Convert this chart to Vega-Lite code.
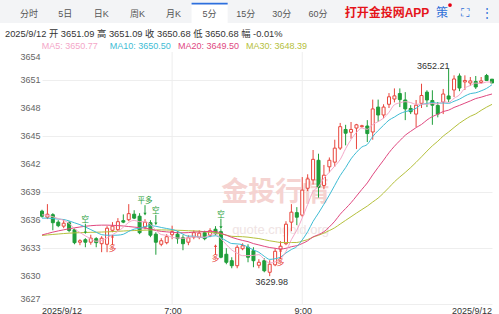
{
"$schema":"https://vega.github.io/schema/vega-lite/v6.json",
"padding":0,
"background":"#ffffff",
"spacing":0,
"config":{"view":{"stroke":null},"font":"'Liberation Sans', 'Noto Sans CJK SC', sans-serif","concat":{"spacing":0}},
"vconcat":[
{
"width":499,"height":23,
"view":{"fill":"#f3f4f6","stroke":null},
"layer":[
{"data":{"values":[{"tab":"分时"},{"tab":"5日"},{"tab":"日K"},{"tab":"周K"},{"tab":"月K"},{"tab":"5分"},{"tab":"15分"},{"tab":"30分"},{"tab":"60分"}]},
"encoding":{"x":{"field":"tab","type":"nominal","axis":null,"scale":{"type":"band","domain":["分时","5日","日K","周K","月K","5分","15分","30分","60分"],"range":[11,336],"paddingInner":0,"paddingOuter":0}}},
"layer":[
{"transform":[{"filter":"datum.tab === '5分'"}],"mark":{"type":"bar","color":"#ffffff"},"encoding":{"y":{"datum":0,"type":"quantitative","axis":null,"scale":{"domain":[0,1],"nice":false,"zero":false}},"y2":{"datum":0.88}}},
{"transform":[{"filter":"datum.tab === '5分'"}],"mark":{"type":"bar","color":"#2d6fdd"},"encoding":{"y":{"datum":0.8,"type":"quantitative"},"y2":{"datum":0.88}}},
{"mark":{"type":"text","fontSize":9,"color":"#555555"},"encoding":{"y":{"datum":0.4,"type":"quantitative"},"text":{"field":"tab"}}}
]},
{"data":{"values":[{"item":"打开金投网APP"}]},
"mark":{"type":"text","fontSize":12,"fontWeight":"bold","color":"#e5141a"},
"encoding":{"x":{"field":"item","type":"nominal","axis":null,"scale":{"type":"point","range":[387,387],"padding":0}},"y":{"datum":0.42,"type":"quantitative"},"text":{"field":"item"}}},
{"data":{"values":[{"item":"策"},{"item":"⛶"},{"item":"⋮"}]},
"encoding":{"x":{"field":"item","type":"nominal","axis":null,"scale":{"type":"point","domain":["策","⛶","⋮"],"range":[442,487],"padding":0}}},
"layer":[
{"mark":{"type":"text","fontSize":12,"color":"#2f6fd8"},"encoding":{"y":{"datum":0.42,"type":"quantitative"},"text":{"field":"item"}}},
{"transform":[{"filter":"datum.item === '策'"}],"mark":{"type":"point","filled":true,"size":14,"color":"#e60012","opacity":1,"xOffset":8},"encoding":{"y":{"datum":0.78,"type":"quantitative"}}}
]}
],
"resolve":{"scale":{"x":"independent"}}
},
{
"width":499,"height":27,
"layer":[
{"data":{"values":[{"s":"2025/9/12 开 3651.09 高 3651.09 收 3650.68 低 3650.68 幅 -0.01%"}]},
"mark":{"type":"text","align":"left","fontSize":9.3,"color":"#333333"},
"encoding":{"x":{"datum":"info","type":"nominal","axis":null,"scale":{"type":"point","range":[5,5],"padding":0}},
"y":{"datum":"info","type":"nominal","axis":null,"scale":{"type":"point","domain":["info","ma"],"range":[11,22.5],"padding":0}},
"text":{"field":"s"}}},
{"data":{"values":[{"ma":"MA5","s":"MA5: 3650.77"},{"ma":"MA10","s":"MA10: 3650.50"},{"ma":"MA20","s":"MA20: 3649.50"},{"ma":"MA30","s":"MA30: 3648.39"}]},
"mark":{"type":"text","align":"left","fontSize":9},
"encoding":{"x":{"field":"ma","type":"nominal","axis":null,"scale":{"type":"point","domain":["MA5","MA10","MA20","MA30"],"range":[41.7,246],"padding":0}},
"y":{"datum":"ma","type":"nominal"},
"text":{"field":"s"},
"color":{"field":"ma","type":"nominal","legend":null,"scale":{"domain":["MA5","MA10","MA20","MA30"],"range":["#f4a7c8","#3ebcd4","#e0487f","#b5c03c"]}}}}
],
"resolve":{"scale":{"x":"independent"}}
},
{
"width":499,"height":252,
"data":{"values":[
{"t":"05:00","o":3636.95,"h":3637.10,"l":3636.25,"c":3636.40,"m5":3636.55,"m10":3636.20,"m20":3634.40,"m30":3634.34},
{"t":"05:05","o":3636.30,"h":3637.70,"l":3636.10,"c":3636.62,"m5":3636.50,"m10":3636.20,"m20":3634.55,"m30":3634.40},
{"t":"05:10","o":3636.57,"h":3636.73,"l":3634.90,"c":3635.71,"m5":3636.35,"m10":3636.15,"m20":3634.70,"m30":3634.45},
{"t":"05:15","o":3635.77,"h":3635.98,"l":3635.23,"c":3635.39,"m5":3636.15,"m10":3636.10,"m20":3634.83,"m30":3634.50},
{"t":"05:20","o":3635.34,"h":3636.09,"l":3635.12,"c":3635.66,"m5":3635.96,"m10":3636.05,"m20":3634.95,"m30":3634.55},
{"t":"05:25","o":3635.71,"h":3635.87,"l":3634.69,"c":3634.88,"m5":3635.65,"m10":3635.90,"m20":3635.06,"m30":3634.59},
{"t":"05:30","o":3634.96,"h":3635.12,"l":3633.40,"c":3633.57,"m5":3635.04,"m10":3635.70,"m20":3635.16,"m30":3634.62},
{"t":"05:35","o":3633.62,"h":3633.94,"l":3633.30,"c":3633.78,"m5":3634.66,"m10":3635.50,"m20":3635.25,"m30":3634.64},
{"t":"05:40","o":3633.89,"h":3634.05,"l":3633.08,"c":3633.62,"m5":3634.30,"m10":3635.25,"m20":3635.33,"m30":3634.66},
{"t":"05:45","o":3633.62,"h":3634.42,"l":3633.35,"c":3634.05,"m5":3633.98,"m10":3634.97,"m20":3635.39,"m30":3634.68},
{"t":"05:50","o":3634.00,"h":3634.16,"l":3633.08,"c":3633.57,"m5":3633.72,"m10":3634.69,"m20":3635.43,"m30":3634.69},
{"t":"05:55","o":3633.46,"h":3634.26,"l":3632.55,"c":3634.05,"m5":3633.81,"m10":3634.43,"m20":3635.45,"m30":3634.71},
{"t":"06:00","o":3633.40,"h":3635.34,"l":3632.55,"c":3635.12,"m5":3634.08,"m10":3634.37,"m20":3635.45,"m30":3634.73},
{"t":"06:05","o":3634.90,"h":3635.77,"l":3634.69,"c":3635.34,"m5":3634.43,"m10":3634.36,"m20":3635.43,"m30":3634.76},
{"t":"06:10","o":3634.96,"h":3636.20,"l":3634.80,"c":3635.82,"m5":3634.78,"m10":3634.38,"m20":3635.40,"m30":3634.79},
{"t":"06:15","o":3635.93,"h":3636.60,"l":3635.66,"c":3635.77,"m5":3635.22,"m10":3634.47,"m20":3635.36,"m30":3634.82},
{"t":"06:20","o":3636.03,"h":3637.70,"l":3635.87,"c":3636.68,"m5":3635.75,"m10":3634.78,"m20":3635.30,"m30":3634.85},
{"t":"06:25","o":3636.62,"h":3637.05,"l":3636.10,"c":3636.20,"m5":3635.96,"m10":3635.02,"m20":3635.24,"m30":3634.87},
{"t":"06:30","o":3636.41,"h":3636.73,"l":3634.48,"c":3634.64,"m5":3635.82,"m10":3635.12,"m20":3635.18,"m30":3634.89},
{"t":"06:35","o":3635.23,"h":3636.09,"l":3635.00,"c":3635.77,"m5":3635.81,"m10":3635.30,"m20":3635.13,"m30":3634.91},
{"t":"06:40","o":3635.71,"h":3635.98,"l":3634.16,"c":3634.37,"m5":3635.53,"m10":3635.38,"m20":3635.03,"m30":3634.93},
{"t":"06:45","o":3634.48,"h":3634.69,"l":3632.28,"c":3633.62,"m5":3634.92,"m10":3635.33,"m20":3634.88,"m30":3634.94},
{"t":"06:50","o":3633.40,"h":3634.05,"l":3633.19,"c":3633.78,"m5":3634.44,"m10":3635.20,"m20":3634.78,"m30":3634.94},
{"t":"06:55","o":3633.57,"h":3634.48,"l":3633.40,"c":3634.21,"m5":3634.35,"m10":3635.09,"m20":3634.73,"m30":3634.93},
{"t":"07:00","o":3634.42,"h":3635.39,"l":3633.94,"c":3634.75,"m5":3634.15,"m10":3634.98,"m20":3634.68,"m30":3634.92},
{"t":"07:05","o":3634.48,"h":3634.80,"l":3633.46,"c":3634.00,"m5":3634.07,"m10":3634.80,"m20":3634.64,"m30":3634.90},
{"t":"07:10","o":3634.10,"h":3634.37,"l":3632.76,"c":3633.46,"m5":3634.04,"m10":3634.48,"m20":3634.63,"m30":3634.88},
{"t":"07:15","o":3633.62,"h":3634.37,"l":3633.30,"c":3634.10,"m5":3634.10,"m10":3634.27,"m20":3634.65,"m30":3634.85},
{"t":"07:20","o":3634.16,"h":3634.90,"l":3633.94,"c":3634.64,"m5":3634.19,"m10":3634.27,"m20":3634.70,"m30":3634.83},
{"t":"07:25","o":3634.16,"h":3634.90,"l":3633.94,"c":3634.59,"m5":3634.16,"m10":3634.15,"m20":3634.72,"m30":3634.81},
{"t":"07:30","o":3634.64,"h":3634.85,"l":3633.83,"c":3634.00,"m5":3634.16,"m10":3634.12,"m20":3634.75,"m30":3634.73},
{"t":"07:35","o":3634.37,"h":3635.12,"l":3634.16,"c":3634.85,"m5":3634.44,"m10":3634.24,"m20":3634.79,"m30":3634.67},
{"t":"07:40","o":3635.01,"h":3635.34,"l":3634.37,"c":3634.53,"m5":3634.52,"m10":3634.31,"m20":3634.76,"m30":3634.63},
{"t":"07:45","o":3634.75,"h":3635.01,"l":3631.90,"c":3632.01,"m5":3634.00,"m10":3634.09,"m20":3634.59,"m30":3634.51},
{"t":"07:50","o":3632.33,"h":3632.98,"l":3631.26,"c":3631.47,"m5":3633.37,"m10":3633.77,"m20":3634.37,"m30":3634.38},
{"t":"07:55","o":3631.64,"h":3632.01,"l":3630.83,"c":3631.10,"m5":3632.79,"m10":3633.48,"m20":3634.14,"m30":3634.25},
{"t":"08:00","o":3631.10,"h":3633.30,"l":3630.83,"c":3633.08,"m5":3632.44,"m10":3633.44,"m20":3633.96,"m30":3634.23},
{"t":"08:05","o":3632.92,"h":3633.51,"l":3632.76,"c":3633.24,"m5":3632.18,"m10":3633.35,"m20":3633.81,"m30":3634.21},
{"t":"08:10","o":3633.08,"h":3633.40,"l":3631.47,"c":3632.01,"m5":3632.18,"m10":3633.09,"m20":3633.68,"m30":3634.16},
{"t":"08:15","o":3632.71,"h":3633.08,"l":3630.94,"c":3631.64,"m5":3632.21,"m10":3632.79,"m20":3633.47,"m30":3634.08},
{"t":"08:20","o":3631.15,"h":3631.80,"l":3630.83,"c":3631.47,"m5":3632.29,"m10":3632.54,"m20":3633.33,"m30":3634.01},
{"t":"08:25","o":3631.64,"h":3631.90,"l":3630.40,"c":3630.56,"m5":3631.78,"m10":3632.11,"m20":3633.18,"m30":3633.89},
{"t":"08:30","o":3630.40,"h":3631.69,"l":3629.98,"c":3631.26,"m5":3631.39,"m10":3631.78,"m20":3633.05,"m30":3633.77},
{"t":"08:35","o":3631.20,"h":3632.98,"l":3631.05,"c":3632.65,"m5":3631.52,"m10":3631.85,"m20":3632.97,"m30":3633.68},
{"t":"08:40","o":3632.87,"h":3633.73,"l":3632.65,"c":3633.19,"m5":3631.83,"m10":3632.02,"m20":3632.89,"m30":3633.59},
{"t":"08:45","o":3633.46,"h":3635.87,"l":3633.30,"c":3635.55,"m5":3632.64,"m10":3632.47,"m20":3632.97,"m30":3633.58},
{"t":"08:50","o":3635.77,"h":3637.70,"l":3634.80,"c":3636.84,"m5":3633.90,"m10":3632.84,"m20":3633.14,"m30":3633.59},
{"t":"08:55","o":3636.79,"h":3637.38,"l":3635.45,"c":3636.30,"m5":3634.91,"m10":3633.15,"m20":3633.25,"m30":3633.59},
{"t":"09:00","o":3636.52,"h":3640.60,"l":3636.30,"c":3639.20,"m5":3636.22,"m10":3633.87,"m20":3633.48,"m30":3633.74},
{"t":"09:05","o":3639.40,"h":3640.90,"l":3639.10,"c":3640.40,"m5":3637.66,"m10":3634.74,"m20":3633.77,"m30":3633.90},
{"t":"09:10","o":3640.30,"h":3643.50,"l":3639.80,"c":3642.50,"m5":3639.05,"m10":3635.85,"m20":3634.19,"m30":3634.17},
{"t":"09:15","o":3642.40,"h":3643.10,"l":3638.40,"c":3639.50,"m5":3639.58,"m10":3636.74,"m20":3634.43,"m30":3634.36},
{"t":"09:20","o":3639.70,"h":3641.90,"l":3639.30,"c":3640.80,"m5":3640.48,"m10":3637.69,"m20":3634.74,"m30":3634.60},
{"t":"09:25","o":3641.70,"h":3642.70,"l":3641.10,"c":3642.40,"m5":3641.12,"m10":3638.67,"m20":3635.26,"m30":3634.87},
{"t":"09:30","o":3642.20,"h":3644.60,"l":3641.70,"c":3643.70,"m5":3641.78,"m10":3639.72,"m20":3635.87,"m30":3635.17},
{"t":"09:35","o":3643.70,"h":3646.40,"l":3643.50,"c":3646.00,"m5":3642.48,"m10":3640.76,"m20":3636.62,"m30":3635.57},
{"t":"09:40","o":3645.70,"h":3646.20,"l":3644.00,"c":3645.30,"m5":3643.64,"m10":3641.61,"m20":3637.23,"m30":3635.96},
{"t":"09:45","o":3645.40,"h":3646.50,"l":3644.70,"c":3645.70,"m5":3644.62,"m10":3642.55,"m20":3637.85,"m30":3636.35},
{"t":"09:50","o":3645.85,"h":3646.30,"l":3643.60,"c":3646.20,"m5":3645.38,"m10":3643.25,"m20":3638.56,"m30":3636.74},
{"t":"09:55","o":3646.00,"h":3646.20,"l":3645.90,"c":3646.10,"m5":3645.86,"m10":3643.82,"m20":3639.28,"m30":3637.12},
{"t":"10:00","o":3646.07,"h":3646.70,"l":3644.35,"c":3645.26,"m5":3645.71,"m10":3644.10,"m20":3639.97,"m30":3637.49},
{"t":"10:05","o":3645.43,"h":3648.90,"l":3644.60,"c":3647.90,"m5":3646.23,"m10":3644.94,"m20":3640.84,"m30":3637.93},
{"t":"10:10","o":3648.10,"h":3648.90,"l":3646.50,"c":3647.25,"m5":3646.54,"m10":3645.58,"m20":3641.64,"m30":3638.35},
{"t":"10:15","o":3647.25,"h":3648.40,"l":3646.90,"c":3648.10,"m5":3646.92,"m10":3646.15,"m20":3642.41,"m30":3638.89},
{"t":"10:20","o":3648.40,"h":3649.60,"l":3648.00,"c":3649.20,"m5":3647.54,"m10":3646.70,"m20":3643.21,"m30":3639.48},
{"t":"10:25","o":3648.96,"h":3650.10,"l":3648.60,"c":3649.30,"m5":3648.35,"m10":3647.03,"m20":3643.90,"m30":3640.09},
{"t":"10:30","o":3649.55,"h":3650.10,"l":3648.10,"c":3648.90,"m5":3648.55,"m10":3647.39,"m20":3644.50,"m30":3640.61},
{"t":"10:35","o":3648.86,"h":3649.70,"l":3646.70,"c":3647.90,"m5":3648.68,"m10":3647.61,"m20":3645.08,"m30":3641.10},
{"t":"10:40","o":3647.95,"h":3648.30,"l":3647.35,"c":3647.60,"m5":3648.58,"m10":3647.75,"m20":3645.50,"m30":3641.62},
{"t":"10:45","o":3647.35,"h":3648.86,"l":3645.96,"c":3648.30,"m5":3648.40,"m10":3647.97,"m20":3645.90,"m30":3642.18},
{"t":"10:50","o":3648.50,"h":3650.60,"l":3648.00,"c":3649.34,"m5":3648.41,"m10":3648.38,"m20":3646.24,"m30":3642.77},
{"t":"10:55","o":3649.70,"h":3649.90,"l":3648.10,"c":3648.86,"m5":3648.40,"m10":3648.48,"m20":3646.71,"m30":3643.38},
{"t":"11:00","o":3648.80,"h":3649.90,"l":3646.20,"c":3648.30,"m5":3648.48,"m10":3648.58,"m20":3647.08,"m30":3643.95},
{"t":"11:05","o":3648.27,"h":3648.64,"l":3647.00,"c":3647.35,"m5":3648.43,"m10":3648.51,"m20":3647.33,"m30":3644.44},
{"t":"11:10","o":3648.64,"h":3650.04,"l":3647.35,"c":3649.50,"m5":3648.67,"m10":3648.54,"m20":3647.62,"m30":3644.99},
{"t":"11:15","o":3649.29,"h":3652.21,"l":3648.64,"c":3648.96,"m5":3648.59,"m10":3648.50,"m20":3647.77,"m30":3645.43},
{"t":"11:20","o":3649.93,"h":3651.50,"l":3649.18,"c":3651.11,"m5":3649.04,"m10":3648.72,"m20":3648.06,"m30":3645.91},
{"t":"11:25","o":3651.43,"h":3651.70,"l":3649.80,"c":3650.14,"m5":3649.41,"m10":3648.95,"m20":3648.28,"m30":3646.37},
{"t":"11:30","o":3650.79,"h":3651.50,"l":3649.93,"c":3650.95,"m5":3650.13,"m10":3649.28,"m20":3648.52,"m30":3646.76},
{"t":"11:35","o":3650.68,"h":3651.32,"l":3650.36,"c":3650.90,"m5":3650.41,"m10":3649.54,"m20":3648.76,"m30":3647.11},
{"t":"11:40","o":3650.84,"h":3651.43,"l":3650.04,"c":3650.25,"m5":3650.67,"m10":3649.63,"m20":3649.01,"m30":3647.37},
{"t":"11:45","o":3650.73,"h":3651.32,"l":3650.57,"c":3650.90,"m5":3650.63,"m10":3649.84,"m20":3649.16,"m30":3647.75},
{"t":"11:50","o":3651.48,"h":3651.65,"l":3650.90,"c":3650.95,"m5":3650.79,"m10":3650.10,"m20":3649.34,"m30":3648.09},
{"t":"11:55","o":3651.09,"h":3651.09,"l":3650.68,"c":3650.68,"m5":3650.77,"m10":3650.50,"m20":3649.50,"m30":3648.39}
]},
"layer":[
{"data":{"values":[{"s":"金投行情"}]},
"mark":{"type":"text","fontSize":27,"fontWeight":"bold","color":"#f5d3d1"},
"encoding":{"x":{"datum":"08:35","type":"ordinal"},"y":{"datum":3638.9,"type":"quantitative"},"text":{"field":"s"}}},
{"data":{"values":[{"s":"quote.cngold.org"}]},
"mark":{"type":"text","fontSize":13,"color":"#efe3e3"},
"encoding":{"x":{"datum":"08:40","type":"ordinal"},"y":{"datum":3634.9,"type":"quantitative"},"text":{"field":"s"}}},
{"data":{"values":[{"t":"07:00"},{"t":"09:00"}]},
"mark":{"type":"rule","color":"#eeeeee","strokeWidth":1},
"encoding":{"x":{"field":"t","type":"ordinal","title":null}}},
{"mark":{"type":"rule","strokeWidth":1},
"encoding":{
"x":{"field":"t","type":"ordinal","title":null,"scale":{"type":"point","padding":0,"range":[42,492]},"axis":null},
"y":{"field":"l","type":"quantitative","title":null,"scale":{"domain":[3627,3654],"zero":false,"nice":false},
"axis":{"values":[3627,3630,3633,3636,3639,3642,3645,3648,3651,3654],"labels":false,"domain":false,"ticks":false,"tickSize":0,"grid":true,"gridColor":"#eeeeee","minExtent":0,"maxExtent":0}},
"y2":{"field":"h"},
"color":{"condition":{"test":"datum.c >= datum.o","value":"#e8453c"},"value":"#1f9e3a"}}},
{"mark":{"type":"bar","width":3,"strokeWidth":1},
"encoding":{
"x":{"field":"t","type":"ordinal","title":null},
"y":{"field":"o","type":"quantitative","title":null},
"y2":{"field":"c"},
"fill":{"condition":{"test":"datum.c >= datum.o","value":"#ffffff"},"value":"#1f9e3a"},
"stroke":{"condition":{"test":"datum.c >= datum.o","value":"#e8453c"},"value":"#1f9e3a"}}},
{"mark":{"type":"line","interpolate":"monotone","strokeWidth":1,"color":"#b5c03c"},
"encoding":{"x":{"field":"t","type":"ordinal","title":null},"y":{"field":"m30","type":"quantitative","title":null}}},
{"mark":{"type":"line","interpolate":"monotone","strokeWidth":1,"color":"#e0487f"},
"encoding":{"x":{"field":"t","type":"ordinal","title":null},"y":{"field":"m20","type":"quantitative","title":null}}},
{"mark":{"type":"line","interpolate":"monotone","strokeWidth":1,"color":"#3ebcd4"},
"encoding":{"x":{"field":"t","type":"ordinal","title":null},"y":{"field":"m10","type":"quantitative","title":null}}},
{"mark":{"type":"line","interpolate":"monotone","strokeWidth":1,"color":"#f4a7c8"},
"encoding":{"x":{"field":"t","type":"ordinal","title":null},"y":{"field":"m5","type":"quantitative","title":null}}},
{"data":{"values":[
{"t":"05:40","k":"空","p":3634.42},
{"t":"06:05","k":"多","p":3634.48},
{"t":"06:35","k":"平多","p":3636.41},
{"t":"06:45","k":"空","p":3635.37},
{"t":"07:40","k":"多","p":3633.46},
{"t":"07:45","k":"空","p":3634.96},
{"t":"08:40","k":"多","p":3632.98}
]},
"encoding":{"x":{"field":"t","type":"ordinal","title":null},"y":{"field":"p","type":"quantitative","title":null}},
"layer":[
{"transform":[{"filter":"datum.k !== '多'"}],"mark":{"type":"rule","strokeWidth":1,"color":"#1f9e3a","yOffset":-11,"y2Offset":-2},"encoding":{"y2":{"field":"p"}}},
{"transform":[{"filter":"datum.k !== '多'"}],"mark":{"type":"point","shape":"triangle-down","filled":true,"size":10,"color":"#1f9e3a","opacity":1,"yOffset":-2}},
{"transform":[{"filter":"datum.k !== '多'"}],"mark":{"type":"text","fontSize":7.5,"color":"#1f9e3a","dy":-15},"encoding":{"text":{"field":"k"}}},
{"transform":[{"filter":"datum.k === '多'"}],"mark":{"type":"rule","strokeWidth":1,"color":"#e8453c","yOffset":11,"y2Offset":2},"encoding":{"y2":{"field":"p"}}},
{"transform":[{"filter":"datum.k === '多'"}],"mark":{"type":"point","shape":"triangle-up","filled":true,"size":10,"color":"#e8453c","opacity":1,"yOffset":2}},
{"transform":[{"filter":"datum.k === '多'"}],"mark":{"type":"text","fontSize":7.5,"color":"#e8453c","dy":15},"encoding":{"text":{"field":"k"}}}
]},
{"data":{"values":[{"t":"11:15","v":3652.21,"k":"max"},{"t":"08:30","v":3629.98,"k":"min"}]},
"encoding":{"x":{"field":"t","type":"ordinal","title":null},"y":{"field":"v","type":"quantitative","title":null},"text":{"field":"v","type":"quantitative","format":".2f"}},
"layer":[
{"transform":[{"filter":"datum.k === 'max'"}],"mark":{"type":"text","align":"right","baseline":"alphabetic","dx":1,"fontSize":9,"color":"#333333"}},
{"transform":[{"filter":"datum.k === 'min'"}],"mark":{"type":"text","align":"center","baseline":"top","dx":2,"dy":2,"fontSize":9,"color":"#333333"}}
]},
{"data":{"values":[{"v":3627},{"v":3630},{"v":3633},{"v":3636},{"v":3639},{"v":3642},{"v":3645},{"v":3648},{"v":3651},{"v":3654}]},
"encoding":{"x":{"datum":"05:00","type":"ordinal"},"y":{"field":"v","type":"quantitative","title":null},"text":{"field":"v","type":"quantitative","format":"d"}},
"layer":[
{"transform":[{"filter":"datum.v > 3627 && datum.v < 3654"}],"mark":{"type":"text","align":"right","baseline":"middle","dx":-1.5,"fontSize":9,"color":"#666666"}},
{"transform":[{"filter":"datum.v === 3654"}],"mark":{"type":"text","align":"right","baseline":"top","dx":-1.5,"dy":1,"fontSize":9,"color":"#666666"}},
{"transform":[{"filter":"datum.v === 3627"}],"mark":{"type":"text","align":"right","baseline":"bottom","dx":-1.5,"dy":0,"fontSize":9,"color":"#666666"}}
]},
{"data":{"values":[{"t":"05:00","s":"2025/9/12"},{"t":"07:00","s":"7:00"},{"t":"09:00","s":"9:00"},{"t":"11:55","s":"2025/9/12"}]},
"encoding":{"x":{"field":"t","type":"ordinal","title":null},"y":{"datum":3627,"type":"quantitative"},"text":{"field":"s"}},
"layer":[
{"transform":[{"filter":"datum.t === '05:00'"}],"mark":{"type":"text","align":"left","baseline":"top","dy":2.5,"fontSize":9,"color":"#333333"}},
{"transform":[{"filter":"datum.t === '07:00' || datum.t === '09:00'"}],"mark":{"type":"text","align":"center","baseline":"top","dy":2.5,"dx":1,"fontSize":9,"color":"#333333"}},
{"transform":[{"filter":"datum.t === '11:55'"}],"mark":{"type":"text","align":"right","baseline":"top","dy":2.5,"fontSize":9,"color":"#333333"}}
]}
]
}
]
}
